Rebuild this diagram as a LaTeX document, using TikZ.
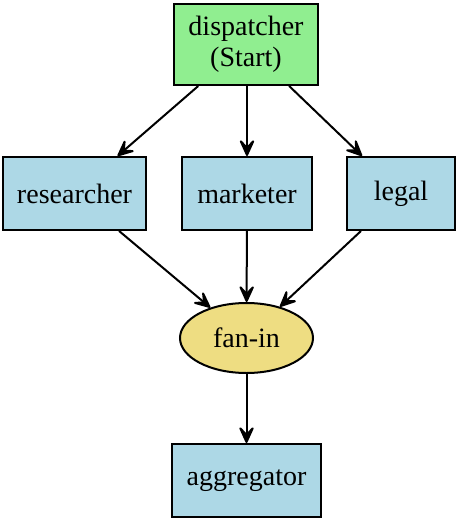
\documentclass[tikz,border=0pt]{standalone}
\usepackage{fontspec}
\setmainfont{Liberation Serif}
\usetikzlibrary{arrows.meta,shapes.geometric}
\definecolor{boxblue}{HTML}{ADD8E6}
\definecolor{boxgreen}{HTML}{90EE90}
\definecolor{boxgold}{HTML}{EEDD82}
\begin{document}
\begin{tikzpicture}[x=1pt,y=-1pt,
  every node/.style={font=\fontsize{28}{31}\selectfont, inner sep=0pt, line width=2pt, draw=black, align=center},
  bluebox/.style={rectangle, fill=boxblue, minimum height=73pt},
  greenbox/.style={rectangle, fill=boxgreen},
  goldoval/.style={ellipse, fill=boxgold},
  edge/.style={line width=2pt, -{Stealth[length=21pt,width=19pt,inset=10pt,round]}}]
\useasboundingbox (0,0) rectangle (457,519);
\node[greenbox, minimum width=144pt, minimum height=81pt] (disp) at (246,44.5) {dispatcher\\(Start)};
\node[bluebox, minimum width=143pt] (res) at (74.5,193.5) {researcher};
\node[bluebox, minimum width=130pt] (mkt) at (247,193.5) {marketer};
\node[bluebox, minimum width=108pt] (legal) at (401,193.5) {legal};
\node[goldoval, minimum width=133pt, minimum height=70pt] (fan) at (246.5,338) {fan-in};
\node[bluebox, minimum width=149pt] (agg) at (246.5,480.5) {aggregator};
\draw[edge] (disp) -- (res);
\draw[edge] (disp.south -| mkt) -- (mkt);
\draw[edge] (disp) -- (legal);
\draw[edge] (res) -- (fan);
\draw[edge] (mkt) -- (fan);
\draw[edge] (legal) -- (fan);
\draw[edge] (fan) -- (agg);
\end{tikzpicture}
\end{document}
